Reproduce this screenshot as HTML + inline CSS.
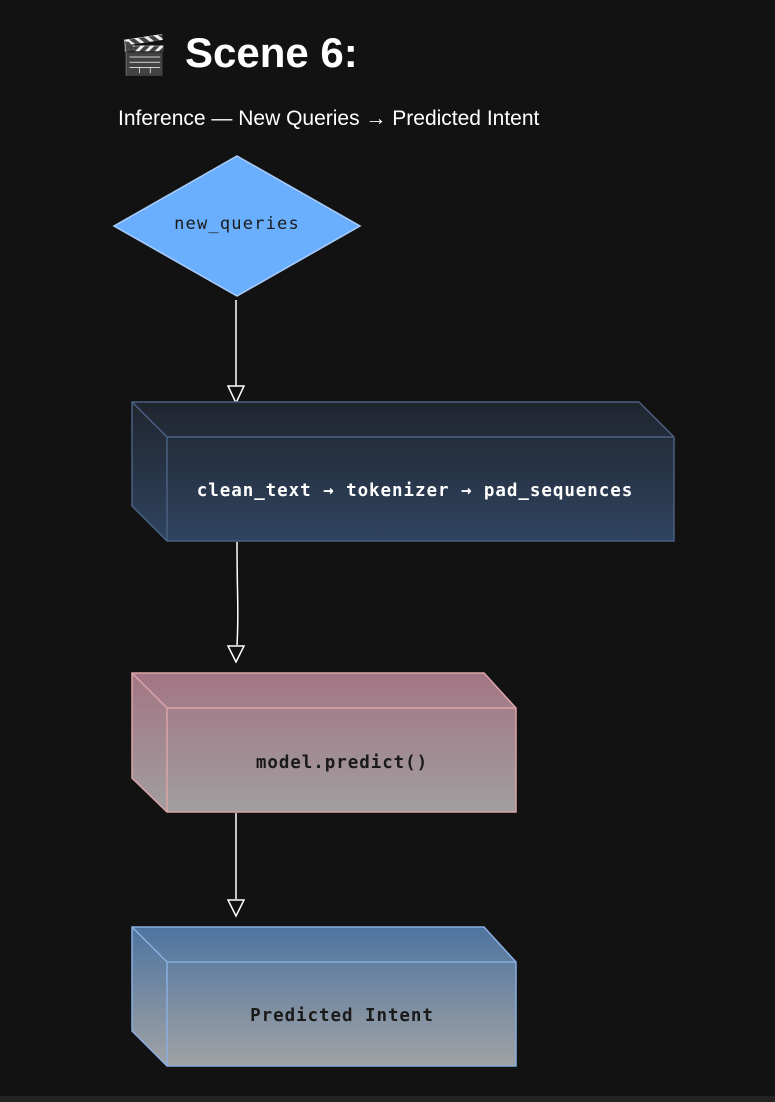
<!DOCTYPE html>
<html><head><meta charset="utf-8"><style>
html,body{margin:0;padding:0;background:#121212;width:775px;height:1102px;overflow:hidden;font-family:"Liberation Sans",sans-serif;color:#fff}
.emo{position:absolute;left:120px;top:30px;font-size:38px;line-height:50px;font-family:'DejaVu Sans',sans-serif}
h1{position:absolute;left:185px;top:28px;margin:0;font-size:42px;font-weight:bold;line-height:50px}
.sub{position:absolute;left:118px;top:107px;font-size:21px;line-height:24px;white-space:nowrap}
svg{position:absolute;left:0;top:0}
</style></head><body>
<div class="emo">🎬</div>
<h1>Scene 6:</h1>
<div class="sub">Inference — New Queries → Predicted Intent</div>
<svg width="775" height="1102" viewBox="0 0 775 1102">
<defs>
<linearGradient id="g1" x1="0" y1="0" x2="0" y2="1"><stop offset="0" stop-color="#20252f"/><stop offset="1" stop-color="#2f4460"/></linearGradient>
<linearGradient id="g2" x1="0" y1="0" x2="0" y2="1"><stop offset="0" stop-color="#a37585"/><stop offset="1" stop-color="#a09e9e"/></linearGradient>
<linearGradient id="g3" x1="0" y1="0" x2="0" y2="1"><stop offset="0" stop-color="#4e74a0"/><stop offset="1" stop-color="#a0a2a4"/></linearGradient>
</defs>
<rect x="0" y="1096" width="775" height="6" fill="#222"/>
<polygon points="237,156 360,226 237,296 114,226" fill="#6aaefe" stroke="#a9cdfb" stroke-width="1.5"/>
<text x="237" y="229" font-family="DejaVu Sans Mono,monospace" font-size="17" letter-spacing="1.2" fill="#1a1a1a" text-anchor="middle">new_queries</text>
<g fill="none" stroke="#fff" stroke-width="1.5">
<line x1="236" y1="300" x2="236" y2="386"/>
<path d="M237,542 C237,600 239,610 237,645"/>
<line x1="236" y1="813" x2="236" y2="899"/>
</g>
<g fill="#121212" stroke="#fff" stroke-width="1.5">
<polygon points="228,386 244,386 236,403"/>
<polygon points="228,646 244,646 236,662"/>
<polygon points="228,900 244,900 236,916"/>
</g>
<g stroke="#4a6080" stroke-width="1.5">
<polygon points="132,402 639,402 674,437 674,541 167,541 132,506" fill="url(#g1)"/>
<polyline points="132,402 167,437 674,437" fill="none"/><line x1="167" y1="437" x2="167" y2="541"/>
</g>
<g stroke="#dba4a8" stroke-width="1.5">
<polygon points="132,673 484,673 516,708 516,812 167,812 132,778" fill="url(#g2)"/>
<polyline points="132,673 167,708 516,708" fill="none"/><line x1="167" y1="708" x2="167" y2="812"/>
</g>
<g stroke="#8aaee0" stroke-width="1.5">
<polygon points="132,927 484,927 516,962 516,1066 167,1066 132,1031" fill="url(#g3)"/>
<polyline points="132,927 167,962 516,962" fill="none"/><line x1="167" y1="962" x2="167" y2="1066"/>
</g>
<g font-family="DejaVu Sans Mono,monospace" font-weight="bold" font-size="17.5" letter-spacing="0.95" text-anchor="middle">
<text x="415" y="496" fill="#fff">clean_text → tokenizer → pad_sequences</text>
<text x="342" y="768" fill="#1a1a1a">model.predict()</text>
<text x="342" y="1021" fill="#1a1a1a">Predicted Intent</text>
</g>
</svg>
</body></html>
